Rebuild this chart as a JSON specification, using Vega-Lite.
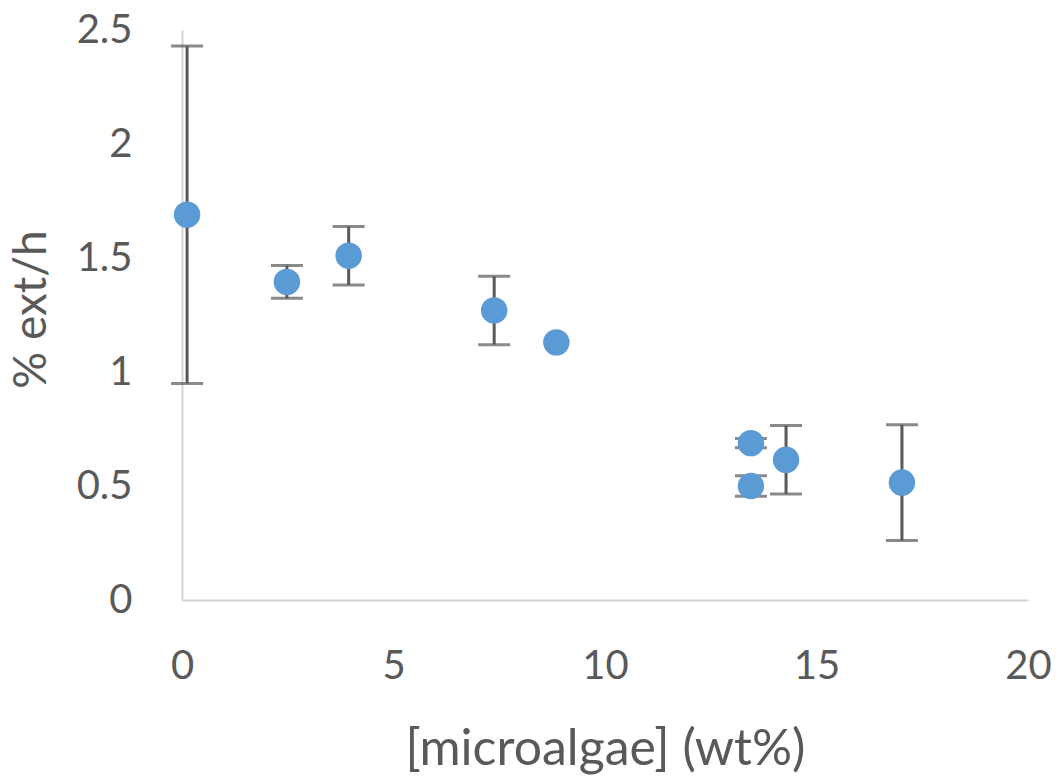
{
  "$schema": "https://vega.github.io/schema/vega-lite/v6.json",
  "width": 846,
  "height": 570,
  "autosize": {"type": "none"},
  "padding": {"left": 182, "top": 30, "right": 29, "bottom": 178},
  "background": "white",
  "config": {
    "view": {"stroke": null},
    "font": "Lato",
    "axis": {
      "grid": false,
      "ticks": false,
      "tickSize": 0,
      "domainColor": "#d4d4d4",
      "domainWidth": 2,
      "labelColor": "#595959",
      "labelFont": "Lato",
      "labelFontSize": 40,
      "titleColor": "#595959",
      "titleFont": "Lato",
      "titleFontSize": 50,
      "titleFontWeight": "normal"
    }
  },
  "data": {
    "values": [
      {"conc": 0.12, "rate": 1.69, "err": 0.74},
      {"conc": 2.48, "rate": 1.395, "err": 0.072},
      {"conc": 3.94, "rate": 1.51, "err": 0.128},
      {"conc": 7.38, "rate": 1.27, "err": 0.15},
      {"conc": 8.85, "rate": 1.13, "err": 0},
      {"conc": 13.45, "rate": 0.688, "err": 0.02},
      {"conc": 13.45, "rate": 0.5, "err": 0.045},
      {"conc": 14.28, "rate": 0.615, "err": 0.15},
      {"conc": 17.02, "rate": 0.515, "err": 0.254}
    ]
  },
  "encoding": {
    "x": {
      "field": "conc",
      "type": "quantitative",
      "scale": {"domain": [0, 20], "nice": false, "zero": true},
      "axis": {
        "title": "[microalgae] (wt%)",
        "values": [0, 5, 10, 15, 20],
        "labelPadding": 46,
        "labelBaseline": "top",
        "labelFlush": false,
        "labelOverlap": false,
        "titleX": 423,
        "titleY": 164,
        "titleAlign": "center",
        "titleBaseline": "alphabetic"
      }
    },
    "y": {
      "field": "rate",
      "type": "quantitative",
      "scale": {"domain": [0, 2.5], "nice": false},
      "axis": {
        "title": "% ext/h",
        "titleFontSize": 46,
        "values": [0, 0.5, 1, 1.5, 2, 2.5],
        "format": "~g",
        "labelPadding": 50,
        "labelFlush": false,
        "labelOverlap": false,
        "titleX": -151,
        "titleY": 279,
        "titleAngle": -90,
        "titleAlign": "center",
        "titleBaseline": "middle"
      }
    }
  },
  "layer": [
    {
      "transform": [{"filter": "datum.err > 0"}],
      "mark": {
        "type": "errorbar",
        "ticks": {"size": 32, "thickness": 3, "color": "#595959"},
        "rule": {"strokeWidth": 3, "color": "#595959"}
      },
      "encoding": {
        "yError": {"field": "err"}
      }
    },
    {
      "mark": {"type": "circle", "size": 700, "color": "#5b9bd5", "opacity": 1}
    }
  ]
}
